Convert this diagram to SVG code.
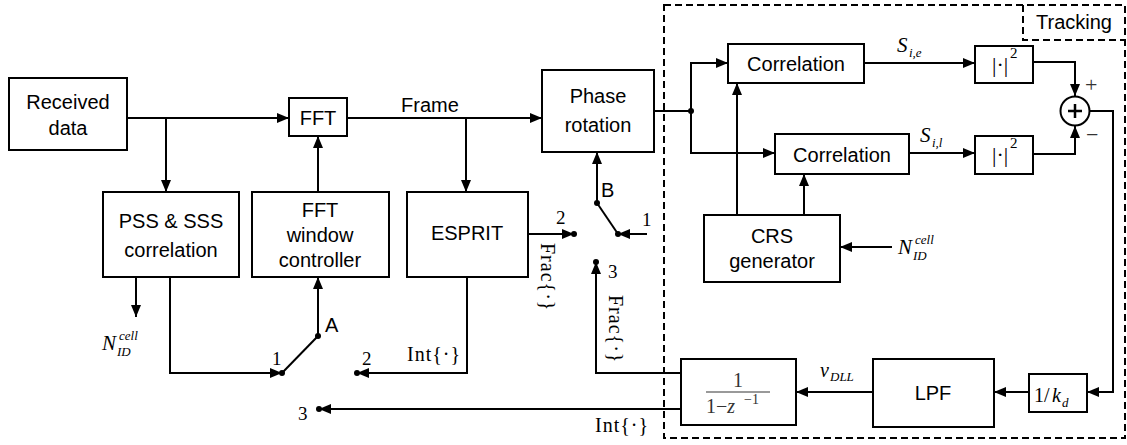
<svg xmlns="http://www.w3.org/2000/svg" width="1127" height="445" viewBox="0 0 1127 445">
<defs>
<marker id="arr" markerUnits="userSpaceOnUse" markerWidth="13" markerHeight="10" refX="12" refY="5" orient="auto">
<path d="M0,0 L12,5 L0,10 z" fill="#000"/>
</marker>
<style>
.box{fill:#fff;stroke:#000;stroke-width:2}
.ln{fill:none;stroke:#000;stroke-width:2}
.dash{fill:none;stroke:#000;stroke-width:2;stroke-dasharray:7,4}
.sans{font-family:"Liberation Sans",Arial,sans-serif;font-size:20px;fill:#000;text-anchor:middle}
.lsans{font-family:"Liberation Sans",Arial,sans-serif;font-size:20px;fill:#000}
.ser{font-family:"Liberation Serif","Times New Roman",serif;font-size:19px;fill:#000}
.it{font-family:"Liberation Serif","Times New Roman",serif;font-style:italic;font-size:20px;fill:#000}
.sub{font-family:"Liberation Serif","Times New Roman",serif;font-style:italic;font-size:13px;fill:#000}
.dot{fill:#000}
</style>
</defs>
<rect width="1127" height="445" fill="#fff"/>

<g id="tracking">
<rect class="dash" x="664" y="5" width="461" height="433"/>
<path class="dash" d="M1023,5 V40 H1125"/>
<text class="sans" x="1074" y="29">Tracking</text>
</g>

<g id="connectors">
<path class="ln" d="M127,118 H289" marker-end="url(#arr)"/>
<path class="ln" d="M166,118 V192" marker-end="url(#arr)"/>
<path class="ln" d="M347,118 H542" marker-end="url(#arr)"/>
<path class="ln" d="M466,118 V192" marker-end="url(#arr)"/>
<path class="ln" d="M318,192 V136" marker-end="url(#arr)"/>
<path class="ln" d="M136,277 V317" marker-end="url(#arr)"/>
<path class="ln" d="M170,277 V373 H282" marker-end="url(#arr)"/>
<path class="ln" d="M282,373 L318,336"/>
<path class="ln" d="M318,336 V277" marker-end="url(#arr)"/>
<path class="ln" d="M467,277 V373 H357" marker-end="url(#arr)"/>
<path class="ln" d="M528,234 H574" marker-end="url(#arr)"/>
<path class="ln" d="M597,203 L618,234"/>
<path class="ln" d="M597,203 V152" marker-end="url(#arr)"/>
<path class="ln" d="M647,234 H618" marker-end="url(#arr)"/>
<path class="ln" d="M681,373 H596 V262" marker-end="url(#arr)"/>
<path class="ln" d="M681,409 H319" marker-end="url(#arr)"/>
<path class="ln" d="M654,111 H691"/>
<path class="ln" d="M691,111 V63 H728" marker-end="url(#arr)"/>
<path class="ln" d="M691,111 V153 H775" marker-end="url(#arr)"/>
<path class="ln" d="M737,215 V83" marker-end="url(#arr)"/>
<path class="ln" d="M804,215 V174" marker-end="url(#arr)"/>
<path class="ln" d="M892,247 H840" marker-end="url(#arr)"/>
<path class="ln" d="M864,63 H975" marker-end="url(#arr)"/>
<path class="ln" d="M909,153 H975" marker-end="url(#arr)"/>
<path class="ln" d="M1033,62 H1075 V96" marker-end="url(#arr)"/>
<path class="ln" d="M1033,154 H1075 V126" marker-end="url(#arr)"/>
<path class="ln" d="M1090,111 H1113 V392 H1087" marker-end="url(#arr)"/>
<path class="ln" d="M1029,392 H994" marker-end="url(#arr)"/>
<path class="ln" d="M873,392 H796" marker-end="url(#arr)"/>
<circle class="dot" cx="282" cy="373" r="3"/>
<circle class="dot" cx="318" cy="336" r="3"/>
<circle class="dot" cx="357" cy="373" r="3"/>
<circle class="dot" cx="319" cy="409" r="3"/>
<circle class="dot" cx="574" cy="234" r="3"/>
<circle class="dot" cx="597" cy="203" r="3"/>
<circle class="dot" cx="618" cy="234" r="3"/>
<circle class="dot" cx="596" cy="262" r="3"/>
<circle class="dot" cx="691" cy="111" r="3"/>
</g>

<g id="labels">
<text class="lsans" x="401" y="112">Frame</text>
<text class="lsans" x="325" y="332">A</text>
<text class="lsans" x="601" y="197">B</text>
<text class="ser" x="272" y="365">1</text>
<text class="ser" x="362" y="365">2</text>
<text class="ser" x="298" y="420">3</text>
<text class="ser" x="556" y="224">2</text>
<text class="ser" x="642" y="226">1</text>
<text class="ser" x="608" y="278">3</text>
<text class="ser" x="407" y="361" style="font-size:20px;letter-spacing:1px">Int{·}</text>
<text class="ser" x="595" y="432" style="font-size:20px;letter-spacing:1px">Int{·}</text>
<text class="ser" transform="translate(541,243) rotate(90)" style="font-size:20px;letter-spacing:1px">Frac{·}</text>
<text class="ser" transform="translate(609,295) rotate(90)" style="font-size:20px;letter-spacing:1px">Frac{·}</text>
<text class="it" x="102" y="350" style="font-size:21px">N</text>
<text class="sub" x="119" y="340">cell</text>
<text class="sub" x="117" y="356">ID</text>
<text class="it" x="898" y="254" style="font-size:21px">N</text>
<text class="sub" x="915" y="244">cell</text>
<text class="sub" x="913" y="260">ID</text>
<text class="it" x="897" y="52" style="font-size:21px">S</text>
<text class="sub" x="909" y="57">i,e</text>
<text class="it" x="920" y="142" style="font-size:21px">S</text>
<text class="sub" x="932" y="147">i,l</text>
<text class="it" x="820" y="377">v</text>
<text class="sub" x="830" y="381">DLL</text>
</g>

<g id="received">
<rect class="box" x="9" y="78" width="118" height="72"/>
<text class="sans" x="68" y="109">Received</text>
<text class="sans" x="68" y="135">data</text>
</g>

<g id="fft">
<rect class="box" x="289" y="98" width="58" height="38"/>
<text class="sans" x="318" y="125">FFT</text>
</g>

<g id="pss">
<rect class="box" x="103" y="192" width="136" height="85"/>
<text class="sans" x="171" y="228">PSS &amp; SSS</text>
<text class="sans" x="171" y="257">correlation</text>
</g>

<g id="fftwin">
<rect class="box" x="252" y="192" width="137" height="85"/>
<text class="sans" x="320" y="217">FFT</text>
<text class="sans" x="320" y="242">window</text>
<text class="sans" x="320" y="267">controller</text>
</g>

<g id="esprit">
<rect class="box" x="407" y="192" width="121" height="85"/>
<text class="sans" x="467" y="240">ESPRIT</text>
</g>

<g id="phase">
<rect class="box" x="542" y="70" width="112" height="82"/>
<text class="sans" x="598" y="103">Phase</text>
<text class="sans" x="598" y="132">rotation</text>
</g>

<g id="corr1">
<rect class="box" x="728" y="44" width="136" height="39"/>
<text class="sans" x="796" y="71">Correlation</text>
</g>

<g id="corr2">
<rect class="box" x="775" y="134" width="134" height="40"/>
<text class="sans" x="842" y="162">Correlation</text>
</g>

<g id="abs1">
<rect class="box" x="975" y="46" width="58" height="37"/>
<text class="ser" x="992" y="72" style="font-size:22px">|·|</text>
<text class="ser" x="1010" y="58" style="font-size:15px">2</text>
</g>

<g id="abs2">
<rect class="box" x="975" y="136" width="58" height="38"/>
<text class="ser" x="992" y="162" style="font-size:22px">|·|</text>
<text class="ser" x="1010" y="148" style="font-size:15px">2</text>
</g>

<g id="sum">
<circle cx="1075" cy="111" r="14.5" fill="#fff" stroke="#000" stroke-width="2"/>
<path d="M1068,111 H1082 M1075,104 V118" stroke="#000" stroke-width="2.5"/>
<text class="ser" x="1085" y="92" style="font-size:22px;fill:#333">+</text>
<text class="ser" x="1086" y="142" style="font-size:22px;fill:#333">−</text>
</g>

<g id="crs">
<rect class="box" x="704" y="215" width="136" height="67"/>
<text class="sans" x="772" y="243">CRS</text>
<text class="sans" x="772" y="268">generator</text>
</g>

<g id="kd">
<rect class="box" x="1029" y="374" width="58" height="38"/>
<text class="ser" x="1034" y="402" style="font-size:20px">1/</text>
<text class="it" x="1052" y="402">k</text>
<text class="sub" x="1062" y="407">d</text>
</g>

<g id="lpf">
<rect class="box" x="873" y="359" width="121" height="68"/>
<text class="sans" x="933" y="400">LPF</text>
</g>

<g id="integ">
<rect class="box" x="681" y="359" width="115" height="66"/>
<text class="ser" x="738" y="387" style="font-size:20px;fill:#333;text-anchor:middle">1</text>
<line x1="706" y1="392" x2="770" y2="392" stroke="#777" stroke-width="1.5"/>
<text class="ser" x="706" y="413" style="font-size:20px;fill:#333">1−<tspan font-style="italic">z</tspan></text>
<text class="ser" x="744" y="404" style="font-size:14px;fill:#333">−1</text>
</g>
</svg>
